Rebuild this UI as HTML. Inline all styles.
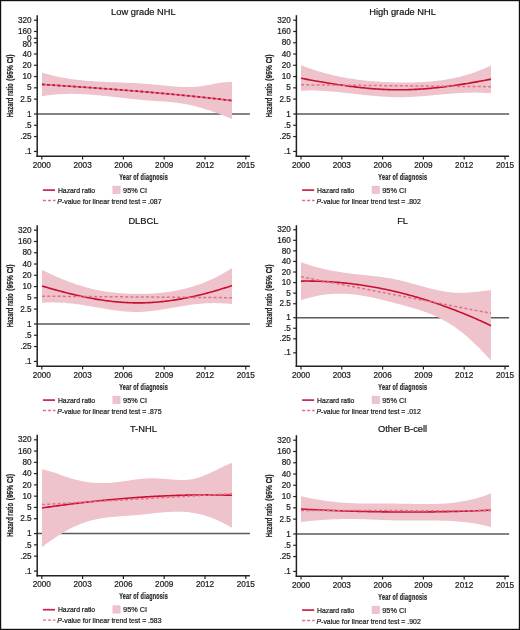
<!DOCTYPE html><html><head><meta charset="utf-8"><style>html,body{margin:0;padding:0;background:#fff;}svg{display:block;will-change:transform;}text{font-family:"Liberation Sans",sans-serif;stroke:#222;stroke-width:0.22px;}</style></head><body>
<svg width="520" height="630" viewBox="0 0 520 630">
<rect x="0" y="0" width="520" height="630" fill="#fff"/>
<g><line x1="37.20" y1="114.00" x2="249.90" y2="114.00" stroke="#5a5a5a" stroke-width="1.5"/>
<path d="M42.00,72.63 L43.50,73.09 L45.00,73.53 L46.50,73.96 L48.00,74.37 L49.50,74.77 L51.00,75.15 L52.50,75.52 L54.00,75.87 L55.50,76.21 L57.00,76.54 L58.50,76.85 L60.00,77.15 L61.50,77.44 L63.00,77.72 L64.50,77.98 L66.00,78.23 L67.50,78.48 L69.00,78.71 L70.50,78.93 L72.00,79.14 L73.50,79.34 L75.00,79.53 L76.50,79.72 L78.00,79.89 L79.50,80.06 L81.00,80.21 L82.50,80.36 L84.00,80.50 L85.50,80.64 L87.00,80.77 L88.50,80.89 L90.00,81.00 L91.50,81.11 L93.00,81.21 L94.50,81.31 L96.00,81.40 L97.50,81.49 L99.00,81.57 L100.50,81.65 L102.00,81.73 L103.50,81.80 L105.00,81.87 L106.50,81.94 L108.00,82.00 L109.50,82.07 L111.00,82.13 L112.50,82.19 L114.00,82.24 L115.50,82.30 L117.00,82.36 L118.50,82.41 L120.00,82.47 L121.50,82.53 L123.00,82.58 L124.50,82.64 L126.00,82.70 L127.50,82.77 L129.00,82.83 L130.50,82.90 L132.00,82.97 L133.50,83.04 L135.00,83.11 L136.50,83.19 L138.00,83.27 L139.50,83.36 L141.00,83.45 L142.50,83.55 L144.00,83.65 L145.50,83.76 L147.00,83.87 L148.50,83.99 L150.00,84.12 L151.50,84.25 L153.00,84.39 L154.50,84.54 L156.00,84.68 L157.50,84.83 L159.00,84.99 L160.50,85.14 L162.00,85.30 L163.50,85.45 L165.00,85.60 L166.50,85.75 L168.00,85.90 L169.50,86.04 L171.00,86.17 L172.50,86.30 L174.00,86.42 L175.50,86.54 L177.00,86.64 L178.50,86.74 L180.00,86.82 L181.50,86.89 L183.00,86.95 L184.50,86.99 L186.00,87.02 L187.50,87.03 L189.00,87.03 L190.50,87.00 L192.00,86.96 L193.50,86.90 L195.00,86.82 L196.50,86.72 L198.00,86.59 L199.50,86.44 L201.00,86.27 L202.50,86.07 L204.00,85.85 L205.50,85.60 L207.00,85.33 L208.50,85.05 L210.00,84.75 L211.50,84.45 L213.00,84.15 L214.50,83.86 L216.00,83.57 L217.50,83.29 L219.00,83.03 L220.50,82.79 L222.00,82.58 L223.50,82.40 L225.00,82.25 L226.50,82.14 L228.00,82.08 L229.50,82.06 L231.00,82.10 L232.00,82.16 L232.00,118.97 L231.00,118.56 L229.50,117.94 L228.00,117.33 L226.50,116.72 L225.00,116.12 L223.50,115.53 L222.00,114.95 L220.50,114.38 L219.00,113.81 L217.50,113.26 L216.00,112.71 L214.50,112.17 L213.00,111.64 L211.50,111.12 L210.00,110.62 L208.50,110.12 L207.00,109.63 L205.50,109.16 L204.00,108.70 L202.50,108.25 L201.00,107.81 L199.50,107.39 L198.00,106.97 L196.50,106.57 L195.00,106.19 L193.50,105.82 L192.00,105.46 L190.50,105.12 L189.00,104.79 L187.50,104.48 L186.00,104.19 L184.50,103.91 L183.00,103.64 L181.50,103.40 L180.00,103.17 L178.50,102.95 L177.00,102.76 L175.50,102.57 L174.00,102.40 L172.50,102.25 L171.00,102.11 L169.50,101.97 L168.00,101.85 L166.50,101.73 L165.00,101.62 L163.50,101.51 L162.00,101.41 L160.50,101.32 L159.00,101.22 L157.50,101.13 L156.00,101.03 L154.50,100.94 L153.00,100.84 L151.50,100.74 L150.00,100.63 L148.50,100.52 L147.00,100.40 L145.50,100.27 L144.00,100.14 L142.50,100.01 L141.00,99.87 L139.50,99.73 L138.00,99.58 L136.50,99.43 L135.00,99.27 L133.50,99.12 L132.00,98.96 L130.50,98.79 L129.00,98.63 L127.50,98.46 L126.00,98.29 L124.50,98.12 L123.00,97.95 L121.50,97.78 L120.00,97.61 L118.50,97.44 L117.00,97.27 L115.50,97.10 L114.00,96.93 L112.50,96.76 L111.00,96.59 L109.50,96.43 L108.00,96.27 L106.50,96.11 L105.00,95.95 L103.50,95.80 L102.00,95.65 L100.50,95.50 L99.00,95.36 L97.50,95.22 L96.00,95.08 L94.50,94.95 L93.00,94.83 L91.50,94.71 L90.00,94.60 L88.50,94.49 L87.00,94.39 L85.50,94.30 L84.00,94.22 L82.50,94.14 L81.00,94.07 L79.50,94.01 L78.00,93.96 L76.50,93.92 L75.00,93.88 L73.50,93.86 L72.00,93.85 L70.50,93.85 L69.00,93.86 L67.50,93.88 L66.00,93.91 L64.50,93.96 L63.00,94.01 L61.50,94.08 L60.00,94.17 L58.50,94.26 L57.00,94.37 L55.50,94.50 L54.00,94.64 L52.50,94.79 L51.00,94.96 L49.50,95.15 L48.00,95.35 L46.50,95.57 L45.00,95.81 L43.50,96.06 L42.00,96.33 Z" fill="#eec3cb"/>
<path d="M42.00,84.40 L43.50,84.50 L45.00,84.59 L46.50,84.69 L48.00,84.79 L49.50,84.89 L51.00,84.99 L52.50,85.09 L54.00,85.18 L55.50,85.28 L57.00,85.38 L58.50,85.48 L60.00,85.58 L61.50,85.68 L63.00,85.78 L64.50,85.88 L66.00,85.98 L67.50,86.08 L69.00,86.18 L70.50,86.28 L72.00,86.39 L73.50,86.49 L75.00,86.59 L76.50,86.69 L78.00,86.80 L79.50,86.90 L81.00,87.00 L82.50,87.11 L84.00,87.21 L85.50,87.32 L87.00,87.42 L88.50,87.53 L90.00,87.63 L91.50,87.74 L93.00,87.85 L94.50,87.95 L96.00,88.06 L97.50,88.17 L99.00,88.28 L100.50,88.39 L102.00,88.49 L103.50,88.60 L105.00,88.71 L106.50,88.83 L108.00,88.94 L109.50,89.05 L111.00,89.16 L112.50,89.27 L114.00,89.39 L115.50,89.50 L117.00,89.61 L118.50,89.73 L120.00,89.84 L121.50,89.96 L123.00,90.08 L124.50,90.19 L126.00,90.31 L127.50,90.43 L129.00,90.55 L130.50,90.67 L132.00,90.79 L133.50,90.91 L135.00,91.03 L136.50,91.15 L138.00,91.27 L139.50,91.40 L141.00,91.52 L142.50,91.65 L144.00,91.77 L145.50,91.90 L147.00,92.02 L148.50,92.15 L150.00,92.28 L151.50,92.41 L153.00,92.54 L154.50,92.67 L156.00,92.80 L157.50,92.93 L159.00,93.06 L160.50,93.20 L162.00,93.33 L163.50,93.47 L165.00,93.60 L166.50,93.74 L168.00,93.88 L169.50,94.01 L171.00,94.15 L172.50,94.29 L174.00,94.43 L175.50,94.57 L177.00,94.72 L178.50,94.86 L180.00,95.00 L181.50,95.15 L183.00,95.29 L184.50,95.44 L186.00,95.59 L187.50,95.74 L189.00,95.89 L190.50,96.04 L192.00,96.19 L193.50,96.34 L195.00,96.49 L196.50,96.65 L198.00,96.80 L199.50,96.96 L201.00,97.12 L202.50,97.28 L204.00,97.43 L205.50,97.59 L207.00,97.76 L208.50,97.92 L210.00,98.08 L211.50,98.25 L213.00,98.41 L214.50,98.58 L216.00,98.74 L217.50,98.91 L219.00,99.08 L220.50,99.25 L222.00,99.43 L223.50,99.60 L225.00,99.77 L226.50,99.95 L228.00,100.12 L229.50,100.30 L231.00,100.48 L232.00,100.60" fill="none" stroke="#de6e86" stroke-width="1.6"/>
<path d="M42.00,84.40 L43.50,84.50 L45.00,84.59 L46.50,84.69 L48.00,84.79 L49.50,84.89 L51.00,84.99 L52.50,85.09 L54.00,85.18 L55.50,85.28 L57.00,85.38 L58.50,85.48 L60.00,85.58 L61.50,85.68 L63.00,85.78 L64.50,85.88 L66.00,85.98 L67.50,86.08 L69.00,86.18 L70.50,86.28 L72.00,86.39 L73.50,86.49 L75.00,86.59 L76.50,86.69 L78.00,86.80 L79.50,86.90 L81.00,87.00 L82.50,87.11 L84.00,87.21 L85.50,87.32 L87.00,87.42 L88.50,87.53 L90.00,87.63 L91.50,87.74 L93.00,87.85 L94.50,87.95 L96.00,88.06 L97.50,88.17 L99.00,88.28 L100.50,88.39 L102.00,88.49 L103.50,88.60 L105.00,88.71 L106.50,88.83 L108.00,88.94 L109.50,89.05 L111.00,89.16 L112.50,89.27 L114.00,89.39 L115.50,89.50 L117.00,89.61 L118.50,89.73 L120.00,89.84 L121.50,89.96 L123.00,90.08 L124.50,90.19 L126.00,90.31 L127.50,90.43 L129.00,90.55 L130.50,90.67 L132.00,90.79 L133.50,90.91 L135.00,91.03 L136.50,91.15 L138.00,91.27 L139.50,91.40 L141.00,91.52 L142.50,91.65 L144.00,91.77 L145.50,91.90 L147.00,92.02 L148.50,92.15 L150.00,92.28 L151.50,92.41 L153.00,92.54 L154.50,92.67 L156.00,92.80 L157.50,92.93 L159.00,93.06 L160.50,93.20 L162.00,93.33 L163.50,93.47 L165.00,93.60 L166.50,93.74 L168.00,93.88 L169.50,94.01 L171.00,94.15 L172.50,94.29 L174.00,94.43 L175.50,94.57 L177.00,94.72 L178.50,94.86 L180.00,95.00 L181.50,95.15 L183.00,95.29 L184.50,95.44 L186.00,95.59 L187.50,95.74 L189.00,95.89 L190.50,96.04 L192.00,96.19 L193.50,96.34 L195.00,96.49 L196.50,96.65 L198.00,96.80 L199.50,96.96 L201.00,97.12 L202.50,97.28 L204.00,97.43 L205.50,97.59 L207.00,97.76 L208.50,97.92 L210.00,98.08 L211.50,98.25 L213.00,98.41 L214.50,98.58 L216.00,98.74 L217.50,98.91 L219.00,99.08 L220.50,99.25 L222.00,99.43 L223.50,99.60 L225.00,99.77 L226.50,99.95 L228.00,100.12 L229.50,100.30 L231.00,100.48 L232.00,100.60" fill="none" stroke="#c8103a" stroke-width="1.8" stroke-dasharray="2.6 2.6"/>
<line x1="37.20" y1="15.20" x2="37.20" y2="156.95" stroke="#222" stroke-width="1.5"/>
<line x1="36.45" y1="156.20" x2="249.90" y2="156.20" stroke="#222" stroke-width="1.5"/>
<line x1="34.00" y1="20.21" x2="37.20" y2="20.21" stroke="#222" stroke-width="1.2"/>
<text x="31.60" y="22.86" font-size="8.2" text-anchor="end" fill="#222">320</text>
<line x1="34.00" y1="31.48" x2="37.20" y2="31.48" stroke="#222" stroke-width="1.2"/>
<text x="31.60" y="34.13" font-size="8.2" text-anchor="end" fill="#222">160</text>
<line x1="34.00" y1="42.75" x2="37.20" y2="42.75" stroke="#222" stroke-width="1.2"/>
<text x="31.60" y="47.20" font-size="8.2" text-anchor="end" fill="#222">80</text>
<line x1="34.00" y1="54.02" x2="37.20" y2="54.02" stroke="#222" stroke-width="1.2"/>
<text x="31.60" y="56.67" font-size="8.2" text-anchor="end" fill="#222">40</text>
<line x1="34.00" y1="65.29" x2="37.20" y2="65.29" stroke="#222" stroke-width="1.2"/>
<text x="31.60" y="67.94" font-size="8.2" text-anchor="end" fill="#222">20</text>
<line x1="34.00" y1="76.56" x2="37.20" y2="76.56" stroke="#222" stroke-width="1.2"/>
<text x="31.60" y="79.21" font-size="8.2" text-anchor="end" fill="#222">10</text>
<line x1="34.00" y1="87.83" x2="37.20" y2="87.83" stroke="#222" stroke-width="1.2"/>
<text x="31.60" y="90.48" font-size="8.2" text-anchor="end" fill="#222">5</text>
<line x1="34.00" y1="99.10" x2="37.20" y2="99.10" stroke="#222" stroke-width="1.2"/>
<text x="31.60" y="101.75" font-size="8.2" text-anchor="end" fill="#222">2.5</text>
<line x1="34.00" y1="114.00" x2="37.20" y2="114.00" stroke="#222" stroke-width="1.2"/>
<text x="31.60" y="116.65" font-size="8.2" text-anchor="end" fill="#222">1</text>
<line x1="34.00" y1="125.27" x2="37.20" y2="125.27" stroke="#222" stroke-width="1.2"/>
<text x="31.60" y="127.92" font-size="8.2" text-anchor="end" fill="#222">.5</text>
<line x1="34.00" y1="136.54" x2="37.20" y2="136.54" stroke="#222" stroke-width="1.2"/>
<text x="31.60" y="139.19" font-size="8.2" text-anchor="end" fill="#222">.25</text>
<line x1="34.00" y1="151.44" x2="37.20" y2="151.44" stroke="#222" stroke-width="1.2"/>
<text x="31.60" y="154.09" font-size="8.2" text-anchor="end" fill="#222">.1</text>
<line x1="34.00" y1="38.30" x2="37.20" y2="38.30" stroke="#222" stroke-width="1.2"/>
<text x="31.60" y="40.60" font-size="8.2" text-anchor="end" fill="#222">0</text>
<line x1="41.80" y1="156.20" x2="41.80" y2="159.40" stroke="#222" stroke-width="1.2"/>
<text x="41.80" y="167.50" font-size="8.2" text-anchor="middle" fill="#222">2000</text>
<line x1="82.60" y1="156.20" x2="82.60" y2="159.40" stroke="#222" stroke-width="1.2"/>
<text x="82.60" y="167.50" font-size="8.2" text-anchor="middle" fill="#222">2003</text>
<line x1="123.40" y1="156.20" x2="123.40" y2="159.40" stroke="#222" stroke-width="1.2"/>
<text x="123.40" y="167.50" font-size="8.2" text-anchor="middle" fill="#222">2006</text>
<line x1="164.20" y1="156.20" x2="164.20" y2="159.40" stroke="#222" stroke-width="1.2"/>
<text x="164.20" y="167.50" font-size="8.2" text-anchor="middle" fill="#222">2009</text>
<line x1="205.00" y1="156.20" x2="205.00" y2="159.40" stroke="#222" stroke-width="1.2"/>
<text x="205.00" y="167.50" font-size="8.2" text-anchor="middle" fill="#222">2012</text>
<line x1="245.80" y1="156.20" x2="245.80" y2="159.40" stroke="#222" stroke-width="1.2"/>
<text x="245.80" y="167.50" font-size="8.2" text-anchor="middle" fill="#222">2015</text>
<text x="143.40" y="14.80" font-size="9.3" text-anchor="middle" fill="#111">Low grade NHL</text>
<text transform="translate(143.60,179.50) scale(0.59,1)" font-size="9.3" letter-spacing="0.35" font-weight="bold" stroke="none" text-anchor="middle" fill="#262626">Year of diagnosis</text>
<text transform="translate(13.00,117.20) rotate(-90) scale(0.645,1)" font-size="9.1" font-weight="bold" stroke="none" text-anchor="start" fill="#262626">Hazard ratio</text>
<text transform="translate(13.00,54.50) rotate(-90) scale(0.73,1)" font-size="9.1" font-weight="bold" stroke="none" text-anchor="end" fill="#262626">(95% CI)</text>
<line x1="42.90" y1="190.10" x2="55.00" y2="190.10" stroke="#cc2244" stroke-width="1.7"/>
<text x="57.90" y="192.60" font-size="6.85" fill="#222">Hazard ratio</text>
<rect x="112.90" y="186.20" width="7.2" height="7.3" fill="#eec3cb" stroke="#e9b3bf" stroke-width="0.6"/>
<text x="123.10" y="192.60" font-size="7.3" fill="#222">95% CI</text>
<line x1="42.90" y1="200.50" x2="55.50" y2="200.50" stroke="#e2708a" stroke-width="1.3" stroke-dasharray="3.1 1.9"/>
<text x="57.30" y="203.70" font-size="6.92" fill="#222"><tspan font-style="italic">P</tspan>-value for linear trend test = .087</text></g>
<g><line x1="296.40" y1="114.00" x2="509.10" y2="114.00" stroke="#5a5a5a" stroke-width="1.5"/>
<path d="M301.00,65.17 L302.50,65.77 L304.00,66.35 L305.50,66.92 L307.00,67.47 L308.50,68.02 L310.00,68.55 L311.50,69.07 L313.00,69.57 L314.50,70.07 L316.00,70.55 L317.50,71.02 L319.00,71.48 L320.50,71.92 L322.00,72.36 L323.50,72.78 L325.00,73.19 L326.50,73.60 L328.00,73.99 L329.50,74.37 L331.00,74.73 L332.50,75.09 L334.00,75.44 L335.50,75.78 L337.00,76.11 L338.50,76.42 L340.00,76.73 L341.50,77.03 L343.00,77.32 L344.50,77.60 L346.00,77.87 L347.50,78.13 L349.00,78.38 L350.50,78.62 L352.00,78.86 L353.50,79.08 L355.00,79.30 L356.50,79.51 L358.00,79.71 L359.50,79.90 L361.00,80.08 L362.50,80.26 L364.00,80.43 L365.50,80.59 L367.00,80.74 L368.50,80.89 L370.00,81.03 L371.50,81.16 L373.00,81.28 L374.50,81.40 L376.00,81.51 L377.50,81.62 L379.00,81.72 L380.50,81.81 L382.00,81.90 L383.50,81.98 L385.00,82.05 L386.50,82.12 L388.00,82.18 L389.50,82.24 L391.00,82.30 L392.50,82.34 L394.00,82.39 L395.50,82.42 L397.00,82.46 L398.50,82.49 L400.00,82.51 L401.50,82.53 L403.00,82.54 L404.50,82.55 L406.00,82.55 L407.50,82.54 L409.00,82.53 L410.50,82.51 L412.00,82.49 L413.50,82.45 L415.00,82.41 L416.50,82.37 L418.00,82.31 L419.50,82.25 L421.00,82.18 L422.50,82.10 L424.00,82.01 L425.50,81.91 L427.00,81.80 L428.50,81.68 L430.00,81.56 L431.50,81.42 L433.00,81.28 L434.50,81.12 L436.00,80.95 L437.50,80.77 L439.00,80.59 L440.50,80.39 L442.00,80.17 L443.50,79.95 L445.00,79.71 L446.50,79.47 L448.00,79.21 L449.50,78.93 L451.00,78.65 L452.50,78.35 L454.00,78.04 L455.50,77.71 L457.00,77.37 L458.50,77.02 L460.00,76.65 L461.50,76.27 L463.00,75.87 L464.50,75.46 L466.00,75.03 L467.50,74.59 L469.00,74.13 L470.50,73.66 L472.00,73.17 L473.50,72.66 L475.00,72.14 L476.50,71.60 L478.00,71.04 L479.50,70.47 L481.00,69.87 L482.50,69.27 L484.00,68.64 L485.50,67.99 L487.00,67.33 L488.50,66.65 L490.00,65.94 L491.00,65.47 L491.00,93.27 L490.00,93.19 L488.50,93.07 L487.00,92.97 L485.50,92.88 L484.00,92.80 L482.50,92.74 L481.00,92.69 L479.50,92.65 L478.00,92.63 L476.50,92.61 L475.00,92.61 L473.50,92.62 L472.00,92.63 L470.50,92.66 L469.00,92.70 L467.50,92.74 L466.00,92.79 L464.50,92.85 L463.00,92.92 L461.50,93.00 L460.00,93.08 L458.50,93.17 L457.00,93.27 L455.50,93.37 L454.00,93.47 L452.50,93.58 L451.00,93.70 L449.50,93.81 L448.00,93.94 L446.50,94.06 L445.00,94.19 L443.50,94.32 L442.00,94.45 L440.50,94.58 L439.00,94.72 L437.50,94.85 L436.00,94.99 L434.50,95.12 L433.00,95.25 L431.50,95.39 L430.00,95.52 L428.50,95.65 L427.00,95.78 L425.50,95.90 L424.00,96.02 L422.50,96.14 L421.00,96.25 L419.50,96.36 L418.00,96.47 L416.50,96.57 L415.00,96.66 L413.50,96.75 L412.00,96.83 L410.50,96.91 L409.00,96.97 L407.50,97.03 L406.00,97.08 L404.50,97.13 L403.00,97.16 L401.50,97.19 L400.00,97.20 L398.50,97.21 L397.00,97.20 L395.50,97.19 L394.00,97.16 L392.50,97.12 L391.00,97.07 L389.50,97.02 L388.00,96.95 L386.50,96.87 L385.00,96.79 L383.50,96.69 L382.00,96.59 L380.50,96.48 L379.00,96.37 L377.50,96.25 L376.00,96.12 L374.50,95.98 L373.00,95.84 L371.50,95.70 L370.00,95.55 L368.50,95.40 L367.00,95.24 L365.50,95.08 L364.00,94.92 L362.50,94.75 L361.00,94.58 L359.50,94.41 L358.00,94.24 L356.50,94.07 L355.00,93.90 L353.50,93.73 L352.00,93.56 L350.50,93.38 L349.00,93.22 L347.50,93.05 L346.00,92.88 L344.50,92.72 L343.00,92.56 L341.50,92.40 L340.00,92.24 L338.50,92.09 L337.00,91.95 L335.50,91.81 L334.00,91.67 L332.50,91.54 L331.00,91.42 L329.50,91.30 L328.00,91.19 L326.50,91.09 L325.00,90.99 L323.50,90.91 L322.00,90.83 L320.50,90.76 L319.00,90.70 L317.50,90.65 L316.00,90.61 L314.50,90.58 L313.00,90.56 L311.50,90.55 L310.00,90.56 L308.50,90.57 L307.00,90.60 L305.50,90.65 L304.00,90.70 L302.50,90.77 L301.00,90.86 Z" fill="#eec3cb"/>
<path d="M301.00,78.24 L302.50,78.53 L304.00,78.81 L305.50,79.09 L307.00,79.37 L308.50,79.64 L310.00,79.92 L311.50,80.19 L313.00,80.46 L314.50,80.73 L316.00,80.99 L317.50,81.26 L319.00,81.52 L320.50,81.78 L322.00,82.03 L323.50,82.29 L325.00,82.54 L326.50,82.79 L328.00,83.03 L329.50,83.27 L331.00,83.51 L332.50,83.75 L334.00,83.99 L335.50,84.22 L337.00,84.44 L338.50,84.67 L340.00,84.89 L341.50,85.11 L343.00,85.33 L344.50,85.54 L346.00,85.75 L347.50,85.95 L349.00,86.15 L350.50,86.35 L352.00,86.54 L353.50,86.73 L355.00,86.91 L356.50,87.09 L358.00,87.26 L359.50,87.43 L361.00,87.60 L362.50,87.76 L364.00,87.91 L365.50,88.06 L367.00,88.21 L368.50,88.35 L370.00,88.48 L371.50,88.61 L373.00,88.73 L374.50,88.85 L376.00,88.96 L377.50,89.06 L379.00,89.16 L380.50,89.25 L382.00,89.34 L383.50,89.42 L385.00,89.49 L386.50,89.55 L388.00,89.61 L389.50,89.66 L391.00,89.71 L392.50,89.74 L394.00,89.77 L395.50,89.80 L397.00,89.81 L398.50,89.82 L400.00,89.82 L401.50,89.81 L403.00,89.79 L404.50,89.77 L406.00,89.74 L407.50,89.70 L409.00,89.66 L410.50,89.61 L412.00,89.55 L413.50,89.48 L415.00,89.41 L416.50,89.33 L418.00,89.25 L419.50,89.16 L421.00,89.06 L422.50,88.96 L424.00,88.85 L425.50,88.73 L427.00,88.61 L428.50,88.49 L430.00,88.35 L431.50,88.21 L433.00,88.07 L434.50,87.92 L436.00,87.77 L437.50,87.60 L439.00,87.44 L440.50,87.27 L442.00,87.09 L443.50,86.91 L445.00,86.73 L446.50,86.54 L448.00,86.34 L449.50,86.14 L451.00,85.94 L452.50,85.73 L454.00,85.52 L455.50,85.30 L457.00,85.08 L458.50,84.85 L460.00,84.62 L461.50,84.39 L463.00,84.15 L464.50,83.91 L466.00,83.67 L467.50,83.42 L469.00,83.17 L470.50,82.91 L472.00,82.66 L473.50,82.39 L475.00,82.13 L476.50,81.86 L478.00,81.59 L479.50,81.32 L481.00,81.04 L482.50,80.76 L484.00,80.48 L485.50,80.20 L487.00,79.91 L488.50,79.63 L490.00,79.34 L491.00,79.14" fill="none" stroke="#c8102e" stroke-width="1.6"/>
<path d="M301.00,84.80 L491.00,86.70" fill="none" stroke="#e2708a" stroke-width="1.5" stroke-dasharray="3 2.2"/>
<line x1="296.40" y1="15.20" x2="296.40" y2="156.95" stroke="#222" stroke-width="1.5"/>
<line x1="295.65" y1="156.20" x2="509.10" y2="156.20" stroke="#222" stroke-width="1.5"/>
<line x1="293.20" y1="20.21" x2="296.40" y2="20.21" stroke="#222" stroke-width="1.2"/>
<text x="290.80" y="22.86" font-size="8.2" text-anchor="end" fill="#222">320</text>
<line x1="293.20" y1="31.48" x2="296.40" y2="31.48" stroke="#222" stroke-width="1.2"/>
<text x="290.80" y="34.13" font-size="8.2" text-anchor="end" fill="#222">160</text>
<line x1="293.20" y1="42.75" x2="296.40" y2="42.75" stroke="#222" stroke-width="1.2"/>
<text x="290.80" y="45.40" font-size="8.2" text-anchor="end" fill="#222">80</text>
<line x1="293.20" y1="54.02" x2="296.40" y2="54.02" stroke="#222" stroke-width="1.2"/>
<text x="290.80" y="56.67" font-size="8.2" text-anchor="end" fill="#222">40</text>
<line x1="293.20" y1="65.29" x2="296.40" y2="65.29" stroke="#222" stroke-width="1.2"/>
<text x="290.80" y="67.94" font-size="8.2" text-anchor="end" fill="#222">20</text>
<line x1="293.20" y1="76.56" x2="296.40" y2="76.56" stroke="#222" stroke-width="1.2"/>
<text x="290.80" y="79.21" font-size="8.2" text-anchor="end" fill="#222">10</text>
<line x1="293.20" y1="87.83" x2="296.40" y2="87.83" stroke="#222" stroke-width="1.2"/>
<text x="290.80" y="90.48" font-size="8.2" text-anchor="end" fill="#222">5</text>
<line x1="293.20" y1="99.10" x2="296.40" y2="99.10" stroke="#222" stroke-width="1.2"/>
<text x="290.80" y="101.75" font-size="8.2" text-anchor="end" fill="#222">2.5</text>
<line x1="293.20" y1="114.00" x2="296.40" y2="114.00" stroke="#222" stroke-width="1.2"/>
<text x="290.80" y="116.65" font-size="8.2" text-anchor="end" fill="#222">1</text>
<line x1="293.20" y1="125.27" x2="296.40" y2="125.27" stroke="#222" stroke-width="1.2"/>
<text x="290.80" y="127.92" font-size="8.2" text-anchor="end" fill="#222">.5</text>
<line x1="293.20" y1="136.54" x2="296.40" y2="136.54" stroke="#222" stroke-width="1.2"/>
<text x="290.80" y="139.19" font-size="8.2" text-anchor="end" fill="#222">.25</text>
<line x1="293.20" y1="151.44" x2="296.40" y2="151.44" stroke="#222" stroke-width="1.2"/>
<text x="290.80" y="154.09" font-size="8.2" text-anchor="end" fill="#222">.1</text>
<line x1="301.00" y1="156.20" x2="301.00" y2="159.40" stroke="#222" stroke-width="1.2"/>
<text x="301.00" y="167.50" font-size="8.2" text-anchor="middle" fill="#222">2000</text>
<line x1="341.80" y1="156.20" x2="341.80" y2="159.40" stroke="#222" stroke-width="1.2"/>
<text x="341.80" y="167.50" font-size="8.2" text-anchor="middle" fill="#222">2003</text>
<line x1="382.60" y1="156.20" x2="382.60" y2="159.40" stroke="#222" stroke-width="1.2"/>
<text x="382.60" y="167.50" font-size="8.2" text-anchor="middle" fill="#222">2006</text>
<line x1="423.40" y1="156.20" x2="423.40" y2="159.40" stroke="#222" stroke-width="1.2"/>
<text x="423.40" y="167.50" font-size="8.2" text-anchor="middle" fill="#222">2009</text>
<line x1="464.20" y1="156.20" x2="464.20" y2="159.40" stroke="#222" stroke-width="1.2"/>
<text x="464.20" y="167.50" font-size="8.2" text-anchor="middle" fill="#222">2012</text>
<line x1="505.00" y1="156.20" x2="505.00" y2="159.40" stroke="#222" stroke-width="1.2"/>
<text x="505.00" y="167.50" font-size="8.2" text-anchor="middle" fill="#222">2015</text>
<text x="402.60" y="14.80" font-size="9.3" text-anchor="middle" fill="#111">High grade NHL</text>
<text transform="translate(402.80,179.50) scale(0.59,1)" font-size="9.3" letter-spacing="0.35" font-weight="bold" stroke="none" text-anchor="middle" fill="#262626">Year of diagnosis</text>
<text transform="translate(272.20,117.20) rotate(-90) scale(0.645,1)" font-size="9.1" font-weight="bold" stroke="none" text-anchor="start" fill="#262626">Hazard ratio</text>
<text transform="translate(272.20,54.50) rotate(-90) scale(0.73,1)" font-size="9.1" font-weight="bold" stroke="none" text-anchor="end" fill="#262626">(95% CI)</text>
<line x1="302.10" y1="190.10" x2="314.20" y2="190.10" stroke="#cc2244" stroke-width="1.7"/>
<text x="317.10" y="192.60" font-size="6.85" fill="#222">Hazard ratio</text>
<rect x="372.10" y="186.20" width="7.2" height="7.3" fill="#eec3cb" stroke="#e9b3bf" stroke-width="0.6"/>
<text x="382.30" y="192.60" font-size="7.3" fill="#222">95% CI</text>
<line x1="302.10" y1="200.50" x2="314.70" y2="200.50" stroke="#e2708a" stroke-width="1.3" stroke-dasharray="3.1 1.9"/>
<text x="316.50" y="203.70" font-size="6.92" fill="#222"><tspan font-style="italic">P</tspan>-value for linear trend test = .802</text></g>
<g><line x1="37.20" y1="324.00" x2="249.90" y2="324.00" stroke="#5a5a5a" stroke-width="1.5"/>
<path d="M42.00,269.88 L43.50,270.62 L45.00,271.36 L46.50,272.08 L48.00,272.80 L49.50,273.50 L51.00,274.20 L52.50,274.89 L54.00,275.57 L55.50,276.23 L57.00,276.89 L58.50,277.53 L60.00,278.17 L61.50,278.79 L63.00,279.40 L64.50,280.00 L66.00,280.59 L67.50,281.17 L69.00,281.74 L70.50,282.29 L72.00,282.83 L73.50,283.36 L75.00,283.88 L76.50,284.38 L78.00,284.88 L79.50,285.36 L81.00,285.82 L82.50,286.27 L84.00,286.71 L85.50,287.14 L87.00,287.55 L88.50,287.95 L90.00,288.34 L91.50,288.71 L93.00,289.06 L94.50,289.40 L96.00,289.73 L97.50,290.04 L99.00,290.34 L100.50,290.63 L102.00,290.90 L103.50,291.15 L105.00,291.40 L106.50,291.63 L108.00,291.85 L109.50,292.05 L111.00,292.24 L112.50,292.42 L114.00,292.59 L115.50,292.75 L117.00,292.90 L118.50,293.03 L120.00,293.15 L121.50,293.27 L123.00,293.37 L124.50,293.46 L126.00,293.54 L127.50,293.61 L129.00,293.67 L130.50,293.73 L132.00,293.77 L133.50,293.80 L135.00,293.83 L136.50,293.85 L138.00,293.86 L139.50,293.86 L141.00,293.85 L142.50,293.83 L144.00,293.80 L145.50,293.77 L147.00,293.72 L148.50,293.67 L150.00,293.60 L151.50,293.53 L153.00,293.44 L154.50,293.35 L156.00,293.24 L157.50,293.12 L159.00,292.99 L160.50,292.85 L162.00,292.69 L163.50,292.53 L165.00,292.35 L166.50,292.16 L168.00,291.96 L169.50,291.74 L171.00,291.51 L172.50,291.27 L174.00,291.01 L175.50,290.74 L177.00,290.45 L178.50,290.15 L180.00,289.84 L181.50,289.51 L183.00,289.16 L184.50,288.80 L186.00,288.42 L187.50,288.03 L189.00,287.62 L190.50,287.20 L192.00,286.76 L193.50,286.30 L195.00,285.82 L196.50,285.33 L198.00,284.82 L199.50,284.29 L201.00,283.74 L202.50,283.18 L204.00,282.60 L205.50,281.99 L207.00,281.37 L208.50,280.73 L210.00,280.07 L211.50,279.39 L213.00,278.69 L214.50,277.98 L216.00,277.24 L217.50,276.47 L219.00,275.69 L220.50,274.89 L222.00,274.07 L223.50,273.22 L225.00,272.35 L226.50,271.46 L228.00,270.55 L229.50,269.62 L231.00,268.66 L232.00,268.01 L232.00,304.11 L231.00,304.00 L229.50,303.85 L228.00,303.71 L226.50,303.58 L225.00,303.48 L223.50,303.38 L222.00,303.30 L220.50,303.24 L219.00,303.19 L217.50,303.15 L216.00,303.13 L214.50,303.12 L213.00,303.12 L211.50,303.14 L210.00,303.18 L208.50,303.23 L207.00,303.29 L205.50,303.36 L204.00,303.45 L202.50,303.55 L201.00,303.66 L199.50,303.79 L198.00,303.93 L196.50,304.08 L195.00,304.25 L193.50,304.42 L192.00,304.61 L190.50,304.81 L189.00,305.02 L187.50,305.24 L186.00,305.47 L184.50,305.71 L183.00,305.95 L181.50,306.20 L180.00,306.45 L178.50,306.70 L177.00,306.96 L175.50,307.23 L174.00,307.49 L172.50,307.75 L171.00,308.02 L169.50,308.28 L168.00,308.54 L166.50,308.80 L165.00,309.05 L163.50,309.30 L162.00,309.54 L160.50,309.78 L159.00,310.01 L157.50,310.23 L156.00,310.44 L154.50,310.64 L153.00,310.83 L151.50,311.01 L150.00,311.18 L148.50,311.34 L147.00,311.48 L145.50,311.60 L144.00,311.71 L142.50,311.80 L141.00,311.88 L139.50,311.93 L138.00,311.97 L136.50,311.99 L135.00,311.98 L133.50,311.96 L132.00,311.91 L130.50,311.85 L129.00,311.77 L127.50,311.68 L126.00,311.57 L124.50,311.44 L123.00,311.30 L121.50,311.15 L120.00,310.98 L118.50,310.80 L117.00,310.61 L115.50,310.41 L114.00,310.20 L112.50,309.99 L111.00,309.76 L109.50,309.53 L108.00,309.29 L106.50,309.04 L105.00,308.79 L103.50,308.54 L102.00,308.29 L100.50,308.03 L99.00,307.77 L97.50,307.51 L96.00,307.25 L94.50,306.99 L93.00,306.73 L91.50,306.47 L90.00,306.22 L88.50,305.97 L87.00,305.73 L85.50,305.49 L84.00,305.25 L82.50,305.02 L81.00,304.79 L79.50,304.58 L78.00,304.36 L76.50,304.16 L75.00,303.96 L73.50,303.78 L72.00,303.60 L70.50,303.43 L69.00,303.27 L67.50,303.13 L66.00,302.99 L64.50,302.87 L63.00,302.76 L61.50,302.66 L60.00,302.57 L58.50,302.50 L57.00,302.45 L55.50,302.41 L54.00,302.38 L52.50,302.37 L51.00,302.38 L49.50,302.40 L48.00,302.45 L46.50,302.51 L45.00,302.59 L43.50,302.69 L42.00,302.80 Z" fill="#eec3cb"/>
<path d="M42.00,285.98 L43.50,286.43 L45.00,286.87 L46.50,287.31 L48.00,287.75 L49.50,288.18 L51.00,288.61 L52.50,289.03 L54.00,289.45 L55.50,289.87 L57.00,290.28 L58.50,290.69 L60.00,291.09 L61.50,291.49 L63.00,291.89 L64.50,292.28 L66.00,292.66 L67.50,293.04 L69.00,293.41 L70.50,293.78 L72.00,294.14 L73.50,294.50 L75.00,294.85 L76.50,295.20 L78.00,295.53 L79.50,295.87 L81.00,296.20 L82.50,296.52 L84.00,296.83 L85.50,297.14 L87.00,297.44 L88.50,297.73 L90.00,298.02 L91.50,298.30 L93.00,298.58 L94.50,298.84 L96.00,299.10 L97.50,299.35 L99.00,299.60 L100.50,299.83 L102.00,300.06 L103.50,300.28 L105.00,300.49 L106.50,300.70 L108.00,300.90 L109.50,301.08 L111.00,301.26 L112.50,301.43 L114.00,301.60 L115.50,301.75 L117.00,301.89 L118.50,302.03 L120.00,302.15 L121.50,302.27 L123.00,302.38 L124.50,302.48 L126.00,302.56 L127.50,302.64 L129.00,302.71 L130.50,302.77 L132.00,302.82 L133.50,302.86 L135.00,302.88 L136.50,302.90 L138.00,302.91 L139.50,302.90 L141.00,302.89 L142.50,302.87 L144.00,302.83 L145.50,302.79 L147.00,302.73 L148.50,302.66 L150.00,302.59 L151.50,302.50 L153.00,302.41 L154.50,302.30 L156.00,302.19 L157.50,302.07 L159.00,301.93 L160.50,301.79 L162.00,301.64 L163.50,301.48 L165.00,301.31 L166.50,301.13 L168.00,300.94 L169.50,300.74 L171.00,300.53 L172.50,300.32 L174.00,300.09 L175.50,299.86 L177.00,299.62 L178.50,299.37 L180.00,299.11 L181.50,298.85 L183.00,298.57 L184.50,298.29 L186.00,298.00 L187.50,297.70 L189.00,297.39 L190.50,297.08 L192.00,296.76 L193.50,296.43 L195.00,296.09 L196.50,295.75 L198.00,295.39 L199.50,295.03 L201.00,294.67 L202.50,294.29 L204.00,293.91 L205.50,293.52 L207.00,293.13 L208.50,292.73 L210.00,292.32 L211.50,291.90 L213.00,291.48 L214.50,291.05 L216.00,290.62 L217.50,290.18 L219.00,289.73 L220.50,289.28 L222.00,288.82 L223.50,288.35 L225.00,287.88 L226.50,287.40 L228.00,286.92 L229.50,286.43 L231.00,285.94 L232.00,285.60" fill="none" stroke="#c8102e" stroke-width="1.6"/>
<path d="M42.00,296.20 L232.00,297.70" fill="none" stroke="#e2708a" stroke-width="1.5" stroke-dasharray="3 2.2"/>
<line x1="37.20" y1="225.20" x2="37.20" y2="366.95" stroke="#222" stroke-width="1.5"/>
<line x1="36.45" y1="366.20" x2="249.90" y2="366.20" stroke="#222" stroke-width="1.5"/>
<line x1="34.00" y1="230.21" x2="37.20" y2="230.21" stroke="#222" stroke-width="1.2"/>
<text x="31.60" y="232.86" font-size="8.2" text-anchor="end" fill="#222">320</text>
<line x1="34.00" y1="241.48" x2="37.20" y2="241.48" stroke="#222" stroke-width="1.2"/>
<text x="31.60" y="244.13" font-size="8.2" text-anchor="end" fill="#222">160</text>
<line x1="34.00" y1="252.75" x2="37.20" y2="252.75" stroke="#222" stroke-width="1.2"/>
<text x="31.60" y="255.40" font-size="8.2" text-anchor="end" fill="#222">80</text>
<line x1="34.00" y1="264.02" x2="37.20" y2="264.02" stroke="#222" stroke-width="1.2"/>
<text x="31.60" y="266.67" font-size="8.2" text-anchor="end" fill="#222">40</text>
<line x1="34.00" y1="275.29" x2="37.20" y2="275.29" stroke="#222" stroke-width="1.2"/>
<text x="31.60" y="277.94" font-size="8.2" text-anchor="end" fill="#222">20</text>
<line x1="34.00" y1="286.56" x2="37.20" y2="286.56" stroke="#222" stroke-width="1.2"/>
<text x="31.60" y="289.21" font-size="8.2" text-anchor="end" fill="#222">10</text>
<line x1="34.00" y1="297.83" x2="37.20" y2="297.83" stroke="#222" stroke-width="1.2"/>
<text x="31.60" y="300.48" font-size="8.2" text-anchor="end" fill="#222">5</text>
<line x1="34.00" y1="309.10" x2="37.20" y2="309.10" stroke="#222" stroke-width="1.2"/>
<text x="31.60" y="311.75" font-size="8.2" text-anchor="end" fill="#222">2.5</text>
<line x1="34.00" y1="324.00" x2="37.20" y2="324.00" stroke="#222" stroke-width="1.2"/>
<text x="31.60" y="326.65" font-size="8.2" text-anchor="end" fill="#222">1</text>
<line x1="34.00" y1="335.27" x2="37.20" y2="335.27" stroke="#222" stroke-width="1.2"/>
<text x="31.60" y="337.92" font-size="8.2" text-anchor="end" fill="#222">.5</text>
<line x1="34.00" y1="346.54" x2="37.20" y2="346.54" stroke="#222" stroke-width="1.2"/>
<text x="31.60" y="349.19" font-size="8.2" text-anchor="end" fill="#222">.25</text>
<line x1="34.00" y1="361.44" x2="37.20" y2="361.44" stroke="#222" stroke-width="1.2"/>
<text x="31.60" y="364.09" font-size="8.2" text-anchor="end" fill="#222">.1</text>
<line x1="41.80" y1="366.20" x2="41.80" y2="369.40" stroke="#222" stroke-width="1.2"/>
<text x="41.80" y="377.50" font-size="8.2" text-anchor="middle" fill="#222">2000</text>
<line x1="82.60" y1="366.20" x2="82.60" y2="369.40" stroke="#222" stroke-width="1.2"/>
<text x="82.60" y="377.50" font-size="8.2" text-anchor="middle" fill="#222">2003</text>
<line x1="123.40" y1="366.20" x2="123.40" y2="369.40" stroke="#222" stroke-width="1.2"/>
<text x="123.40" y="377.50" font-size="8.2" text-anchor="middle" fill="#222">2006</text>
<line x1="164.20" y1="366.20" x2="164.20" y2="369.40" stroke="#222" stroke-width="1.2"/>
<text x="164.20" y="377.50" font-size="8.2" text-anchor="middle" fill="#222">2009</text>
<line x1="205.00" y1="366.20" x2="205.00" y2="369.40" stroke="#222" stroke-width="1.2"/>
<text x="205.00" y="377.50" font-size="8.2" text-anchor="middle" fill="#222">2012</text>
<line x1="245.80" y1="366.20" x2="245.80" y2="369.40" stroke="#222" stroke-width="1.2"/>
<text x="245.80" y="377.50" font-size="8.2" text-anchor="middle" fill="#222">2015</text>
<text x="143.40" y="224.00" font-size="9.3" text-anchor="middle" fill="#111">DLBCL</text>
<text transform="translate(143.60,389.50) scale(0.59,1)" font-size="9.3" letter-spacing="0.35" font-weight="bold" stroke="none" text-anchor="middle" fill="#262626">Year of diagnosis</text>
<text transform="translate(13.00,327.20) rotate(-90) scale(0.645,1)" font-size="9.1" font-weight="bold" stroke="none" text-anchor="start" fill="#262626">Hazard ratio</text>
<text transform="translate(13.00,264.50) rotate(-90) scale(0.73,1)" font-size="9.1" font-weight="bold" stroke="none" text-anchor="end" fill="#262626">(95% CI)</text>
<line x1="42.90" y1="400.10" x2="55.00" y2="400.10" stroke="#cc2244" stroke-width="1.7"/>
<text x="57.90" y="402.60" font-size="6.85" fill="#222">Hazard ratio</text>
<rect x="112.90" y="396.20" width="7.2" height="7.3" fill="#eec3cb" stroke="#e9b3bf" stroke-width="0.6"/>
<text x="123.10" y="402.60" font-size="7.3" fill="#222">95% CI</text>
<line x1="42.90" y1="410.50" x2="55.50" y2="410.50" stroke="#e2708a" stroke-width="1.3" stroke-dasharray="3.1 1.9"/>
<text x="57.30" y="413.70" font-size="6.92" fill="#222"><tspan font-style="italic">P</tspan>-value for linear trend test = .875</text></g>
<g><line x1="296.40" y1="317.70" x2="509.10" y2="317.70" stroke="#5a5a5a" stroke-width="1.5"/>
<path d="M301.00,262.18 L302.50,262.74 L304.00,263.28 L305.50,263.80 L307.00,264.31 L308.50,264.80 L310.00,265.28 L311.50,265.74 L313.00,266.18 L314.50,266.61 L316.00,267.03 L317.50,267.43 L319.00,267.82 L320.50,268.20 L322.00,268.56 L323.50,268.91 L325.00,269.25 L326.50,269.58 L328.00,269.89 L329.50,270.20 L331.00,270.49 L332.50,270.78 L334.00,271.05 L335.50,271.32 L337.00,271.57 L338.50,271.82 L340.00,272.06 L341.50,272.29 L343.00,272.51 L344.50,272.73 L346.00,272.93 L347.50,273.14 L349.00,273.33 L350.50,273.52 L352.00,273.70 L353.50,273.88 L355.00,274.05 L356.50,274.22 L358.00,274.39 L359.50,274.55 L361.00,274.71 L362.50,274.87 L364.00,275.03 L365.50,275.18 L367.00,275.34 L368.50,275.50 L370.00,275.66 L371.50,275.83 L373.00,275.99 L374.50,276.17 L376.00,276.34 L377.50,276.53 L379.00,276.71 L380.50,276.91 L382.00,277.11 L383.50,277.32 L385.00,277.55 L386.50,277.78 L388.00,278.02 L389.50,278.27 L391.00,278.53 L392.50,278.81 L394.00,279.10 L395.50,279.40 L397.00,279.72 L398.50,280.05 L400.00,280.40 L401.50,280.75 L403.00,281.12 L404.50,281.50 L406.00,281.89 L407.50,282.28 L409.00,282.69 L410.50,283.09 L412.00,283.51 L413.50,283.92 L415.00,284.34 L416.50,284.76 L418.00,285.18 L419.50,285.60 L421.00,286.01 L422.50,286.43 L424.00,286.84 L425.50,287.24 L427.00,287.64 L428.50,288.04 L430.00,288.42 L431.50,288.80 L433.00,289.16 L434.50,289.51 L436.00,289.86 L437.50,290.18 L439.00,290.50 L440.50,290.79 L442.00,291.07 L443.50,291.34 L445.00,291.58 L446.50,291.81 L448.00,292.01 L449.50,292.19 L451.00,292.35 L452.50,292.48 L454.00,292.59 L455.50,292.68 L457.00,292.73 L458.50,292.77 L460.00,292.78 L461.50,292.77 L463.00,292.75 L464.50,292.70 L466.00,292.63 L467.50,292.55 L469.00,292.46 L470.50,292.35 L472.00,292.23 L473.50,292.09 L475.00,291.95 L476.50,291.79 L478.00,291.63 L479.50,291.46 L481.00,291.28 L482.50,291.10 L484.00,290.92 L485.50,290.73 L487.00,290.54 L488.50,290.36 L490.00,290.17 L491.00,290.05 L491.00,360.54 L490.00,359.43 L488.50,357.79 L487.00,356.17 L485.50,354.57 L484.00,352.99 L482.50,351.43 L481.00,349.89 L479.50,348.37 L478.00,346.87 L476.50,345.40 L475.00,343.96 L473.50,342.53 L472.00,341.14 L470.50,339.77 L469.00,338.42 L467.50,337.10 L466.00,335.81 L464.50,334.55 L463.00,333.32 L461.50,332.12 L460.00,330.94 L458.50,329.80 L457.00,328.69 L455.50,327.62 L454.00,326.57 L452.50,325.56 L451.00,324.58 L449.50,323.64 L448.00,322.72 L446.50,321.83 L445.00,320.98 L443.50,320.15 L442.00,319.35 L440.50,318.58 L439.00,317.83 L437.50,317.11 L436.00,316.41 L434.50,315.73 L433.00,315.08 L431.50,314.45 L430.00,313.83 L428.50,313.24 L427.00,312.67 L425.50,312.11 L424.00,311.57 L422.50,311.05 L421.00,310.54 L419.50,310.04 L418.00,309.56 L416.50,309.09 L415.00,308.63 L413.50,308.18 L412.00,307.75 L410.50,307.32 L409.00,306.89 L407.50,306.48 L406.00,306.07 L404.50,305.67 L403.00,305.27 L401.50,304.87 L400.00,304.47 L398.50,304.08 L397.00,303.69 L395.50,303.30 L394.00,302.90 L392.50,302.51 L391.00,302.12 L389.50,301.73 L388.00,301.34 L386.50,300.95 L385.00,300.57 L383.50,300.19 L382.00,299.81 L380.50,299.44 L379.00,299.07 L377.50,298.72 L376.00,298.36 L374.50,298.02 L373.00,297.69 L371.50,297.36 L370.00,297.04 L368.50,296.74 L367.00,296.44 L365.50,296.16 L364.00,295.88 L362.50,295.63 L361.00,295.38 L359.50,295.15 L358.00,294.93 L356.50,294.73 L355.00,294.55 L353.50,294.38 L352.00,294.23 L350.50,294.09 L349.00,293.98 L347.50,293.88 L346.00,293.80 L344.50,293.73 L343.00,293.69 L341.50,293.66 L340.00,293.66 L338.50,293.67 L337.00,293.69 L335.50,293.74 L334.00,293.81 L332.50,293.90 L331.00,294.00 L329.50,294.12 L328.00,294.27 L326.50,294.43 L325.00,294.61 L323.50,294.82 L322.00,295.04 L320.50,295.28 L319.00,295.54 L317.50,295.83 L316.00,296.13 L314.50,296.46 L313.00,296.80 L311.50,297.17 L310.00,297.55 L308.50,297.96 L307.00,298.39 L305.50,298.84 L304.00,299.31 L302.50,299.81 L301.00,300.32 Z" fill="#eec3cb"/>
<path d="M301.00,281.12 L302.50,281.10 L304.00,281.08 L305.50,281.07 L307.00,281.07 L308.50,281.07 L310.00,281.08 L311.50,281.10 L313.00,281.12 L314.50,281.15 L316.00,281.18 L317.50,281.22 L319.00,281.27 L320.50,281.32 L322.00,281.38 L323.50,281.44 L325.00,281.51 L326.50,281.59 L328.00,281.67 L329.50,281.76 L331.00,281.86 L332.50,281.96 L334.00,282.06 L335.50,282.18 L337.00,282.30 L338.50,282.42 L340.00,282.55 L341.50,282.69 L343.00,282.83 L344.50,282.98 L346.00,283.14 L347.50,283.30 L349.00,283.47 L350.50,283.64 L352.00,283.82 L353.50,284.00 L355.00,284.20 L356.50,284.39 L358.00,284.60 L359.50,284.81 L361.00,285.02 L362.50,285.24 L364.00,285.47 L365.50,285.70 L367.00,285.94 L368.50,286.19 L370.00,286.44 L371.50,286.70 L373.00,286.96 L374.50,287.23 L376.00,287.50 L377.50,287.78 L379.00,288.07 L380.50,288.36 L382.00,288.66 L383.50,288.96 L385.00,289.27 L386.50,289.59 L388.00,289.91 L389.50,290.24 L391.00,290.57 L392.50,290.91 L394.00,291.26 L395.50,291.61 L397.00,291.96 L398.50,292.33 L400.00,292.69 L401.50,293.07 L403.00,293.45 L404.50,293.83 L406.00,294.23 L407.50,294.62 L409.00,295.03 L410.50,295.43 L412.00,295.85 L413.50,296.27 L415.00,296.70 L416.50,297.13 L418.00,297.56 L419.50,298.01 L421.00,298.46 L422.50,298.91 L424.00,299.37 L425.50,299.84 L427.00,300.31 L428.50,300.79 L430.00,301.27 L431.50,301.76 L433.00,302.26 L434.50,302.76 L436.00,303.26 L437.50,303.77 L439.00,304.29 L440.50,304.81 L442.00,305.34 L443.50,305.88 L445.00,306.42 L446.50,306.96 L448.00,307.51 L449.50,308.07 L451.00,308.63 L452.50,309.20 L454.00,309.77 L455.50,310.35 L457.00,310.94 L458.50,311.53 L460.00,312.12 L461.50,312.73 L463.00,313.33 L464.50,313.94 L466.00,314.56 L467.50,315.19 L469.00,315.82 L470.50,316.45 L472.00,317.09 L473.50,317.74 L475.00,318.39 L476.50,319.04 L478.00,319.71 L479.50,320.37 L481.00,321.05 L482.50,321.73 L484.00,322.41 L485.50,323.10 L487.00,323.80 L488.50,324.50 L490.00,325.20 L491.00,325.68" fill="none" stroke="#c8102e" stroke-width="1.6"/>
<path d="M301.00,276.70 L491.00,313.30" fill="none" stroke="#e2708a" stroke-width="1.5" stroke-dasharray="3 2.2"/>
<line x1="296.40" y1="225.20" x2="296.40" y2="366.95" stroke="#222" stroke-width="1.5"/>
<line x1="295.65" y1="366.20" x2="509.10" y2="366.20" stroke="#222" stroke-width="1.5"/>
<line x1="293.20" y1="229.74" x2="296.40" y2="229.74" stroke="#222" stroke-width="1.2"/>
<text x="290.80" y="232.39" font-size="8.2" text-anchor="end" fill="#222">320</text>
<line x1="293.20" y1="240.31" x2="296.40" y2="240.31" stroke="#222" stroke-width="1.2"/>
<text x="290.80" y="242.96" font-size="8.2" text-anchor="end" fill="#222">160</text>
<line x1="293.20" y1="250.88" x2="296.40" y2="250.88" stroke="#222" stroke-width="1.2"/>
<text x="290.80" y="253.53" font-size="8.2" text-anchor="end" fill="#222">80</text>
<line x1="293.20" y1="261.45" x2="296.40" y2="261.45" stroke="#222" stroke-width="1.2"/>
<text x="290.80" y="264.10" font-size="8.2" text-anchor="end" fill="#222">40</text>
<line x1="293.20" y1="272.02" x2="296.40" y2="272.02" stroke="#222" stroke-width="1.2"/>
<text x="290.80" y="274.67" font-size="8.2" text-anchor="end" fill="#222">20</text>
<line x1="293.20" y1="282.59" x2="296.40" y2="282.59" stroke="#222" stroke-width="1.2"/>
<text x="290.80" y="285.24" font-size="8.2" text-anchor="end" fill="#222">10</text>
<line x1="293.20" y1="293.16" x2="296.40" y2="293.16" stroke="#222" stroke-width="1.2"/>
<text x="290.80" y="295.81" font-size="8.2" text-anchor="end" fill="#222">5</text>
<line x1="293.20" y1="303.73" x2="296.40" y2="303.73" stroke="#222" stroke-width="1.2"/>
<text x="290.80" y="306.38" font-size="8.2" text-anchor="end" fill="#222">2.5</text>
<line x1="293.20" y1="317.70" x2="296.40" y2="317.70" stroke="#222" stroke-width="1.2"/>
<text x="290.80" y="320.35" font-size="8.2" text-anchor="end" fill="#222">1</text>
<line x1="293.20" y1="328.27" x2="296.40" y2="328.27" stroke="#222" stroke-width="1.2"/>
<text x="290.80" y="330.92" font-size="8.2" text-anchor="end" fill="#222">.5</text>
<line x1="293.20" y1="338.84" x2="296.40" y2="338.84" stroke="#222" stroke-width="1.2"/>
<text x="290.80" y="341.49" font-size="8.2" text-anchor="end" fill="#222">.25</text>
<line x1="293.20" y1="352.81" x2="296.40" y2="352.81" stroke="#222" stroke-width="1.2"/>
<text x="290.80" y="355.46" font-size="8.2" text-anchor="end" fill="#222">.1</text>
<line x1="301.00" y1="366.20" x2="301.00" y2="369.40" stroke="#222" stroke-width="1.2"/>
<text x="301.00" y="377.50" font-size="8.2" text-anchor="middle" fill="#222">2000</text>
<line x1="341.80" y1="366.20" x2="341.80" y2="369.40" stroke="#222" stroke-width="1.2"/>
<text x="341.80" y="377.50" font-size="8.2" text-anchor="middle" fill="#222">2003</text>
<line x1="382.60" y1="366.20" x2="382.60" y2="369.40" stroke="#222" stroke-width="1.2"/>
<text x="382.60" y="377.50" font-size="8.2" text-anchor="middle" fill="#222">2006</text>
<line x1="423.40" y1="366.20" x2="423.40" y2="369.40" stroke="#222" stroke-width="1.2"/>
<text x="423.40" y="377.50" font-size="8.2" text-anchor="middle" fill="#222">2009</text>
<line x1="464.20" y1="366.20" x2="464.20" y2="369.40" stroke="#222" stroke-width="1.2"/>
<text x="464.20" y="377.50" font-size="8.2" text-anchor="middle" fill="#222">2012</text>
<line x1="505.00" y1="366.20" x2="505.00" y2="369.40" stroke="#222" stroke-width="1.2"/>
<text x="505.00" y="377.50" font-size="8.2" text-anchor="middle" fill="#222">2015</text>
<text x="402.60" y="224.00" font-size="9.3" text-anchor="middle" fill="#111">FL</text>
<text transform="translate(402.80,389.50) scale(0.59,1)" font-size="9.3" letter-spacing="0.35" font-weight="bold" stroke="none" text-anchor="middle" fill="#262626">Year of diagnosis</text>
<text transform="translate(272.20,327.20) rotate(-90) scale(0.645,1)" font-size="9.1" font-weight="bold" stroke="none" text-anchor="start" fill="#262626">Hazard ratio</text>
<text transform="translate(272.20,264.50) rotate(-90) scale(0.73,1)" font-size="9.1" font-weight="bold" stroke="none" text-anchor="end" fill="#262626">(95% CI)</text>
<line x1="302.10" y1="400.10" x2="314.20" y2="400.10" stroke="#cc2244" stroke-width="1.7"/>
<text x="317.10" y="402.60" font-size="6.85" fill="#222">Hazard ratio</text>
<rect x="372.10" y="396.20" width="7.2" height="7.3" fill="#eec3cb" stroke="#e9b3bf" stroke-width="0.6"/>
<text x="382.30" y="402.60" font-size="7.3" fill="#222">95% CI</text>
<line x1="302.10" y1="410.50" x2="314.70" y2="410.50" stroke="#e2708a" stroke-width="1.3" stroke-dasharray="3.1 1.9"/>
<text x="316.50" y="413.70" font-size="6.92" fill="#222"><tspan font-style="italic">P</tspan>-value for linear trend test = .012</text></g>
<g><line x1="37.20" y1="533.60" x2="249.90" y2="533.60" stroke="#5a5a5a" stroke-width="1.5"/>
<path d="M42.00,469.23 L43.50,469.57 L45.00,469.93 L46.50,470.33 L48.00,470.74 L49.50,471.18 L51.00,471.64 L52.50,472.11 L54.00,472.60 L55.50,473.10 L57.00,473.61 L58.50,474.12 L60.00,474.64 L61.50,475.16 L63.00,475.68 L64.50,476.19 L66.00,476.70 L67.50,477.20 L69.00,477.69 L70.50,478.17 L72.00,478.63 L73.50,479.07 L75.00,479.49 L76.50,479.89 L78.00,480.26 L79.50,480.61 L81.00,480.94 L82.50,481.24 L84.00,481.52 L85.50,481.78 L87.00,482.01 L88.50,482.22 L90.00,482.41 L91.50,482.57 L93.00,482.72 L94.50,482.84 L96.00,482.94 L97.50,483.02 L99.00,483.07 L100.50,483.11 L102.00,483.12 L103.50,483.12 L105.00,483.09 L106.50,483.04 L108.00,482.97 L109.50,482.88 L111.00,482.78 L112.50,482.65 L114.00,482.50 L115.50,482.34 L117.00,482.17 L118.50,481.98 L120.00,481.78 L121.50,481.58 L123.00,481.36 L124.50,481.14 L126.00,480.92 L127.50,480.70 L129.00,480.47 L130.50,480.25 L132.00,480.03 L133.50,479.82 L135.00,479.61 L136.50,479.41 L138.00,479.22 L139.50,479.04 L141.00,478.88 L142.50,478.73 L144.00,478.60 L145.50,478.49 L147.00,478.40 L148.50,478.33 L150.00,478.29 L151.50,478.27 L153.00,478.27 L154.50,478.31 L156.00,478.36 L157.50,478.43 L159.00,478.51 L160.50,478.61 L162.00,478.72 L163.50,478.84 L165.00,478.96 L166.50,479.09 L168.00,479.22 L169.50,479.34 L171.00,479.47 L172.50,479.58 L174.00,479.69 L175.50,479.78 L177.00,479.87 L178.50,479.93 L180.00,479.98 L181.50,480.01 L183.00,480.01 L184.50,479.98 L186.00,479.91 L187.50,479.81 L189.00,479.67 L190.50,479.47 L192.00,479.23 L193.50,478.93 L195.00,478.58 L196.50,478.18 L198.00,477.74 L199.50,477.26 L201.00,476.75 L202.50,476.19 L204.00,475.61 L205.50,475.00 L207.00,474.36 L208.50,473.70 L210.00,473.02 L211.50,472.32 L213.00,471.61 L214.50,470.90 L216.00,470.17 L217.50,469.44 L219.00,468.71 L220.50,467.98 L222.00,467.25 L223.50,466.54 L225.00,465.83 L226.50,465.14 L228.00,464.47 L229.50,463.82 L231.00,463.19 L232.00,462.78 L232.00,527.86 L231.00,527.26 L229.50,526.39 L228.00,525.53 L226.50,524.71 L225.00,523.90 L223.50,523.13 L222.00,522.37 L220.50,521.64 L219.00,520.94 L217.50,520.26 L216.00,519.60 L214.50,518.98 L213.00,518.37 L211.50,517.79 L210.00,517.24 L208.50,516.71 L207.00,516.21 L205.50,515.74 L204.00,515.29 L202.50,514.87 L201.00,514.47 L199.50,514.10 L198.00,513.76 L196.50,513.44 L195.00,513.15 L193.50,512.89 L192.00,512.65 L190.50,512.44 L189.00,512.26 L187.50,512.10 L186.00,511.97 L184.50,511.86 L183.00,511.78 L181.50,511.71 L180.00,511.67 L178.50,511.65 L177.00,511.65 L175.50,511.66 L174.00,511.69 L172.50,511.74 L171.00,511.80 L169.50,511.88 L168.00,511.97 L166.50,512.07 L165.00,512.18 L163.50,512.30 L162.00,512.43 L160.50,512.57 L159.00,512.72 L157.50,512.87 L156.00,513.03 L154.50,513.19 L153.00,513.36 L151.50,513.52 L150.00,513.69 L148.50,513.86 L147.00,514.03 L145.50,514.19 L144.00,514.35 L142.50,514.51 L141.00,514.67 L139.50,514.81 L138.00,514.96 L136.50,515.09 L135.00,515.22 L133.50,515.34 L132.00,515.45 L130.50,515.56 L129.00,515.67 L127.50,515.77 L126.00,515.88 L124.50,515.98 L123.00,516.09 L121.50,516.19 L120.00,516.30 L118.50,516.42 L117.00,516.54 L115.50,516.66 L114.00,516.80 L112.50,516.94 L111.00,517.09 L109.50,517.25 L108.00,517.43 L106.50,517.61 L105.00,517.82 L103.50,518.03 L102.00,518.26 L100.50,518.51 L99.00,518.78 L97.50,519.07 L96.00,519.37 L94.50,519.70 L93.00,520.05 L91.50,520.43 L90.00,520.83 L88.50,521.25 L87.00,521.70 L85.50,522.18 L84.00,522.69 L82.50,523.23 L81.00,523.79 L79.50,524.39 L78.00,525.02 L76.50,525.67 L75.00,526.35 L73.50,527.06 L72.00,527.80 L70.50,528.56 L69.00,529.34 L67.50,530.15 L66.00,530.99 L64.50,531.85 L63.00,532.73 L61.50,533.63 L60.00,534.55 L58.50,535.49 L57.00,536.45 L55.50,537.44 L54.00,538.44 L52.50,539.45 L51.00,540.49 L49.50,541.54 L48.00,542.61 L46.50,543.69 L45.00,544.79 L43.50,545.90 L42.00,547.02 Z" fill="#eec3cb"/>
<path d="M42.00,507.97 L43.50,507.75 L45.00,507.54 L46.50,507.32 L48.00,507.11 L49.50,506.89 L51.00,506.68 L52.50,506.47 L54.00,506.26 L55.50,506.06 L57.00,505.85 L58.50,505.65 L60.00,505.45 L61.50,505.25 L63.00,505.05 L64.50,504.85 L66.00,504.66 L67.50,504.46 L69.00,504.27 L70.50,504.08 L72.00,503.89 L73.50,503.71 L75.00,503.52 L76.50,503.34 L78.00,503.16 L79.50,502.98 L81.00,502.80 L82.50,502.62 L84.00,502.45 L85.50,502.27 L87.00,502.10 L88.50,501.93 L90.00,501.77 L91.50,501.60 L93.00,501.44 L94.50,501.28 L96.00,501.12 L97.50,500.96 L99.00,500.80 L100.50,500.65 L102.00,500.49 L103.50,500.34 L105.00,500.19 L106.50,500.05 L108.00,499.90 L109.50,499.76 L111.00,499.62 L112.50,499.48 L114.00,499.34 L115.50,499.20 L117.00,499.07 L118.50,498.94 L120.00,498.81 L121.50,498.68 L123.00,498.56 L124.50,498.43 L126.00,498.31 L127.50,498.19 L129.00,498.07 L130.50,497.96 L132.00,497.84 L133.50,497.73 L135.00,497.62 L136.50,497.51 L138.00,497.41 L139.50,497.30 L141.00,497.20 L142.50,497.10 L144.00,497.01 L145.50,496.91 L147.00,496.82 L148.50,496.73 L150.00,496.64 L151.50,496.55 L153.00,496.47 L154.50,496.39 L156.00,496.31 L157.50,496.23 L159.00,496.15 L160.50,496.08 L162.00,496.01 L163.50,495.94 L165.00,495.87 L166.50,495.81 L168.00,495.74 L169.50,495.68 L171.00,495.62 L172.50,495.57 L174.00,495.51 L175.50,495.46 L177.00,495.41 L178.50,495.37 L180.00,495.32 L181.50,495.28 L183.00,495.24 L184.50,495.20 L186.00,495.17 L187.50,495.13 L189.00,495.10 L190.50,495.08 L192.00,495.05 L193.50,495.03 L195.00,495.00 L196.50,494.99 L198.00,494.97 L199.50,494.95 L201.00,494.94 L202.50,494.93 L204.00,494.93 L205.50,494.92 L207.00,494.92 L208.50,494.92 L210.00,494.92 L211.50,494.93 L213.00,494.94 L214.50,494.95 L216.00,494.96 L217.50,494.98 L219.00,494.99 L220.50,495.01 L222.00,495.04 L223.50,495.06 L225.00,495.09 L226.50,495.12 L228.00,495.15 L229.50,495.19 L231.00,495.23 L232.00,495.25" fill="none" stroke="#c8102e" stroke-width="1.6"/>
<path d="M42.00,504.60 L232.00,493.70" fill="none" stroke="#e2708a" stroke-width="1.5" stroke-dasharray="3 2.2"/>
<line x1="37.20" y1="434.80" x2="37.20" y2="576.55" stroke="#222" stroke-width="1.5"/>
<line x1="36.45" y1="575.80" x2="249.90" y2="575.80" stroke="#222" stroke-width="1.5"/>
<line x1="34.00" y1="439.81" x2="37.20" y2="439.81" stroke="#222" stroke-width="1.2"/>
<text x="31.60" y="442.46" font-size="8.2" text-anchor="end" fill="#222">320</text>
<line x1="34.00" y1="451.08" x2="37.20" y2="451.08" stroke="#222" stroke-width="1.2"/>
<text x="31.60" y="453.73" font-size="8.2" text-anchor="end" fill="#222">160</text>
<line x1="34.00" y1="462.35" x2="37.20" y2="462.35" stroke="#222" stroke-width="1.2"/>
<text x="31.60" y="465.00" font-size="8.2" text-anchor="end" fill="#222">80</text>
<line x1="34.00" y1="473.62" x2="37.20" y2="473.62" stroke="#222" stroke-width="1.2"/>
<text x="31.60" y="476.27" font-size="8.2" text-anchor="end" fill="#222">40</text>
<line x1="34.00" y1="484.89" x2="37.20" y2="484.89" stroke="#222" stroke-width="1.2"/>
<text x="31.60" y="487.54" font-size="8.2" text-anchor="end" fill="#222">20</text>
<line x1="34.00" y1="496.16" x2="37.20" y2="496.16" stroke="#222" stroke-width="1.2"/>
<text x="31.60" y="498.81" font-size="8.2" text-anchor="end" fill="#222">10</text>
<line x1="34.00" y1="507.43" x2="37.20" y2="507.43" stroke="#222" stroke-width="1.2"/>
<text x="31.60" y="510.08" font-size="8.2" text-anchor="end" fill="#222">5</text>
<line x1="34.00" y1="518.70" x2="37.20" y2="518.70" stroke="#222" stroke-width="1.2"/>
<text x="31.60" y="521.35" font-size="8.2" text-anchor="end" fill="#222">2.5</text>
<line x1="34.00" y1="533.60" x2="37.20" y2="533.60" stroke="#222" stroke-width="1.2"/>
<text x="31.60" y="536.25" font-size="8.2" text-anchor="end" fill="#222">1</text>
<line x1="34.00" y1="544.87" x2="37.20" y2="544.87" stroke="#222" stroke-width="1.2"/>
<text x="31.60" y="547.52" font-size="8.2" text-anchor="end" fill="#222">.5</text>
<line x1="34.00" y1="556.14" x2="37.20" y2="556.14" stroke="#222" stroke-width="1.2"/>
<text x="31.60" y="558.79" font-size="8.2" text-anchor="end" fill="#222">.25</text>
<line x1="34.00" y1="571.04" x2="37.20" y2="571.04" stroke="#222" stroke-width="1.2"/>
<text x="31.60" y="573.69" font-size="8.2" text-anchor="end" fill="#222">.1</text>
<line x1="41.80" y1="575.80" x2="41.80" y2="579.00" stroke="#222" stroke-width="1.2"/>
<text x="41.80" y="587.10" font-size="8.2" text-anchor="middle" fill="#222">2000</text>
<line x1="82.60" y1="575.80" x2="82.60" y2="579.00" stroke="#222" stroke-width="1.2"/>
<text x="82.60" y="587.10" font-size="8.2" text-anchor="middle" fill="#222">2003</text>
<line x1="123.40" y1="575.80" x2="123.40" y2="579.00" stroke="#222" stroke-width="1.2"/>
<text x="123.40" y="587.10" font-size="8.2" text-anchor="middle" fill="#222">2006</text>
<line x1="164.20" y1="575.80" x2="164.20" y2="579.00" stroke="#222" stroke-width="1.2"/>
<text x="164.20" y="587.10" font-size="8.2" text-anchor="middle" fill="#222">2009</text>
<line x1="205.00" y1="575.80" x2="205.00" y2="579.00" stroke="#222" stroke-width="1.2"/>
<text x="205.00" y="587.10" font-size="8.2" text-anchor="middle" fill="#222">2012</text>
<line x1="245.80" y1="575.80" x2="245.80" y2="579.00" stroke="#222" stroke-width="1.2"/>
<text x="245.80" y="587.10" font-size="8.2" text-anchor="middle" fill="#222">2015</text>
<text x="143.40" y="431.50" font-size="9.3" text-anchor="middle" fill="#111">T-NHL</text>
<text transform="translate(143.60,599.10) scale(0.59,1)" font-size="9.3" letter-spacing="0.35" font-weight="bold" stroke="none" text-anchor="middle" fill="#262626">Year of diagnosis</text>
<text transform="translate(13.00,536.80) rotate(-90) scale(0.645,1)" font-size="9.1" font-weight="bold" stroke="none" text-anchor="start" fill="#262626">Hazard ratio</text>
<text transform="translate(13.00,474.10) rotate(-90) scale(0.73,1)" font-size="9.1" font-weight="bold" stroke="none" text-anchor="end" fill="#262626">(95% CI)</text>
<line x1="42.90" y1="609.70" x2="55.00" y2="609.70" stroke="#cc2244" stroke-width="1.7"/>
<text x="57.90" y="612.20" font-size="6.85" fill="#222">Hazard ratio</text>
<rect x="112.90" y="605.80" width="7.2" height="7.3" fill="#eec3cb" stroke="#e9b3bf" stroke-width="0.6"/>
<text x="123.10" y="612.20" font-size="7.3" fill="#222">95% CI</text>
<line x1="42.90" y1="620.10" x2="55.50" y2="620.10" stroke="#e2708a" stroke-width="1.3" stroke-dasharray="3.1 1.9"/>
<text x="57.30" y="623.30" font-size="6.92" fill="#222"><tspan font-style="italic">P</tspan>-value for linear trend test = .583</text></g>
<g><line x1="296.40" y1="534.00" x2="509.10" y2="534.00" stroke="#5a5a5a" stroke-width="1.5"/>
<path d="M301.00,496.14 L302.50,496.51 L304.00,496.86 L305.50,497.21 L307.00,497.55 L308.50,497.87 L310.00,498.19 L311.50,498.49 L313.00,498.78 L314.50,499.06 L316.00,499.34 L317.50,499.60 L319.00,499.85 L320.50,500.10 L322.00,500.33 L323.50,500.55 L325.00,500.77 L326.50,500.97 L328.00,501.17 L329.50,501.36 L331.00,501.54 L332.50,501.71 L334.00,501.87 L335.50,502.02 L337.00,502.16 L338.50,502.30 L340.00,502.43 L341.50,502.55 L343.00,502.66 L344.50,502.77 L346.00,502.86 L347.50,502.95 L349.00,503.04 L350.50,503.11 L352.00,503.18 L353.50,503.24 L355.00,503.30 L356.50,503.34 L358.00,503.39 L359.50,503.42 L361.00,503.45 L362.50,503.48 L364.00,503.50 L365.50,503.52 L367.00,503.53 L368.50,503.55 L370.00,503.55 L371.50,503.56 L373.00,503.56 L374.50,503.56 L376.00,503.56 L377.50,503.56 L379.00,503.56 L380.50,503.55 L382.00,503.55 L383.50,503.55 L385.00,503.55 L386.50,503.55 L388.00,503.55 L389.50,503.55 L391.00,503.55 L392.50,503.56 L394.00,503.57 L395.50,503.59 L397.00,503.60 L398.50,503.63 L400.00,503.65 L401.50,503.68 L403.00,503.71 L404.50,503.74 L406.00,503.77 L407.50,503.80 L409.00,503.84 L410.50,503.87 L412.00,503.90 L413.50,503.93 L415.00,503.96 L416.50,503.99 L418.00,504.02 L419.50,504.04 L421.00,504.06 L422.50,504.07 L424.00,504.08 L425.50,504.09 L427.00,504.09 L428.50,504.09 L430.00,504.08 L431.50,504.06 L433.00,504.03 L434.50,504.00 L436.00,503.96 L437.50,503.91 L439.00,503.85 L440.50,503.78 L442.00,503.70 L443.50,503.62 L445.00,503.52 L446.50,503.41 L448.00,503.28 L449.50,503.15 L451.00,503.00 L452.50,502.84 L454.00,502.66 L455.50,502.48 L457.00,502.27 L458.50,502.05 L460.00,501.82 L461.50,501.58 L463.00,501.31 L464.50,501.03 L466.00,500.74 L467.50,500.43 L469.00,500.11 L470.50,499.77 L472.00,499.41 L473.50,499.04 L475.00,498.65 L476.50,498.24 L478.00,497.81 L479.50,497.37 L481.00,496.91 L482.50,496.44 L484.00,495.94 L485.50,495.43 L487.00,494.90 L488.50,494.35 L490.00,493.78 L491.00,493.39 L491.00,527.06 L490.00,526.78 L488.50,526.39 L487.00,526.01 L485.50,525.65 L484.00,525.30 L482.50,524.97 L481.00,524.65 L479.50,524.35 L478.00,524.07 L476.50,523.80 L475.00,523.54 L473.50,523.29 L472.00,523.06 L470.50,522.84 L469.00,522.64 L467.50,522.44 L466.00,522.26 L464.50,522.09 L463.00,521.93 L461.50,521.78 L460.00,521.64 L458.50,521.51 L457.00,521.39 L455.50,521.28 L454.00,521.18 L452.50,521.09 L451.00,521.00 L449.50,520.92 L448.00,520.86 L446.50,520.79 L445.00,520.74 L443.50,520.69 L442.00,520.65 L440.50,520.61 L439.00,520.58 L437.50,520.55 L436.00,520.53 L434.50,520.51 L433.00,520.50 L431.50,520.49 L430.00,520.48 L428.50,520.48 L427.00,520.48 L425.50,520.48 L424.00,520.48 L422.50,520.48 L421.00,520.49 L419.50,520.50 L418.00,520.50 L416.50,520.51 L415.00,520.52 L413.50,520.52 L412.00,520.53 L410.50,520.53 L409.00,520.53 L407.50,520.53 L406.00,520.53 L404.50,520.53 L403.00,520.52 L401.50,520.51 L400.00,520.49 L398.50,520.47 L397.00,520.45 L395.50,520.42 L394.00,520.39 L392.50,520.35 L391.00,520.31 L389.50,520.26 L388.00,520.21 L386.50,520.16 L385.00,520.10 L383.50,520.05 L382.00,519.99 L380.50,519.93 L379.00,519.87 L377.50,519.80 L376.00,519.74 L374.50,519.68 L373.00,519.62 L371.50,519.56 L370.00,519.50 L368.50,519.44 L367.00,519.38 L365.50,519.33 L364.00,519.28 L362.50,519.23 L361.00,519.19 L359.50,519.15 L358.00,519.11 L356.50,519.08 L355.00,519.06 L353.50,519.04 L352.00,519.02 L350.50,519.02 L349.00,519.01 L347.50,519.02 L346.00,519.03 L344.50,519.04 L343.00,519.06 L341.50,519.09 L340.00,519.12 L338.50,519.16 L337.00,519.21 L335.50,519.26 L334.00,519.31 L332.50,519.38 L331.00,519.44 L329.50,519.52 L328.00,519.60 L326.50,519.69 L325.00,519.78 L323.50,519.88 L322.00,519.98 L320.50,520.09 L319.00,520.20 L317.50,520.33 L316.00,520.45 L314.50,520.59 L313.00,520.73 L311.50,520.87 L310.00,521.02 L308.50,521.18 L307.00,521.34 L305.50,521.51 L304.00,521.69 L302.50,521.87 L301.00,522.06 Z" fill="#eec3cb"/>
<path d="M301.00,509.03 L302.50,509.12 L304.00,509.20 L305.50,509.27 L307.00,509.35 L308.50,509.43 L310.00,509.50 L311.50,509.58 L313.00,509.65 L314.50,509.73 L316.00,509.80 L317.50,509.87 L319.00,509.94 L320.50,510.00 L322.00,510.07 L323.50,510.14 L325.00,510.20 L326.50,510.27 L328.00,510.33 L329.50,510.39 L331.00,510.45 L332.50,510.51 L334.00,510.57 L335.50,510.63 L337.00,510.68 L338.50,510.74 L340.00,510.79 L341.50,510.84 L343.00,510.89 L344.50,510.95 L346.00,510.99 L347.50,511.04 L349.00,511.09 L350.50,511.14 L352.00,511.18 L353.50,511.22 L355.00,511.27 L356.50,511.31 L358.00,511.35 L359.50,511.39 L361.00,511.43 L362.50,511.46 L364.00,511.50 L365.50,511.53 L367.00,511.57 L368.50,511.60 L370.00,511.63 L371.50,511.66 L373.00,511.69 L374.50,511.72 L376.00,511.74 L377.50,511.77 L379.00,511.79 L380.50,511.81 L382.00,511.84 L383.50,511.86 L385.00,511.88 L386.50,511.89 L388.00,511.91 L389.50,511.93 L391.00,511.94 L392.50,511.95 L394.00,511.97 L395.50,511.98 L397.00,511.99 L398.50,512.00 L400.00,512.00 L401.50,512.01 L403.00,512.01 L404.50,512.02 L406.00,512.02 L407.50,512.02 L409.00,512.02 L410.50,512.02 L412.00,512.02 L413.50,512.02 L415.00,512.01 L416.50,512.01 L418.00,512.00 L419.50,511.99 L421.00,511.98 L422.50,511.97 L424.00,511.96 L425.50,511.94 L427.00,511.93 L428.50,511.91 L430.00,511.90 L431.50,511.88 L433.00,511.86 L434.50,511.84 L436.00,511.82 L437.50,511.79 L439.00,511.77 L440.50,511.74 L442.00,511.72 L443.50,511.69 L445.00,511.66 L446.50,511.63 L448.00,511.60 L449.50,511.56 L451.00,511.53 L452.50,511.49 L454.00,511.46 L455.50,511.42 L457.00,511.38 L458.50,511.34 L460.00,511.29 L461.50,511.25 L463.00,511.21 L464.50,511.16 L466.00,511.11 L467.50,511.06 L469.00,511.01 L470.50,510.96 L472.00,510.91 L473.50,510.86 L475.00,510.80 L476.50,510.75 L478.00,510.69 L479.50,510.63 L481.00,510.57 L482.50,510.51 L484.00,510.44 L485.50,510.38 L487.00,510.31 L488.50,510.25 L490.00,510.18 L491.00,510.13" fill="none" stroke="#c8102e" stroke-width="1.6"/>
<path d="M301.00,510.40 L491.00,510.80" fill="none" stroke="#e2708a" stroke-width="1.5" stroke-dasharray="3 2.2"/>
<line x1="296.40" y1="435.20" x2="296.40" y2="576.95" stroke="#222" stroke-width="1.5"/>
<line x1="295.65" y1="576.20" x2="509.10" y2="576.20" stroke="#222" stroke-width="1.5"/>
<line x1="293.20" y1="440.21" x2="296.40" y2="440.21" stroke="#222" stroke-width="1.2"/>
<text x="290.80" y="442.86" font-size="8.2" text-anchor="end" fill="#222">320</text>
<line x1="293.20" y1="451.48" x2="296.40" y2="451.48" stroke="#222" stroke-width="1.2"/>
<text x="290.80" y="454.13" font-size="8.2" text-anchor="end" fill="#222">160</text>
<line x1="293.20" y1="462.75" x2="296.40" y2="462.75" stroke="#222" stroke-width="1.2"/>
<text x="290.80" y="465.40" font-size="8.2" text-anchor="end" fill="#222">80</text>
<line x1="293.20" y1="474.02" x2="296.40" y2="474.02" stroke="#222" stroke-width="1.2"/>
<text x="290.80" y="476.67" font-size="8.2" text-anchor="end" fill="#222">40</text>
<line x1="293.20" y1="485.29" x2="296.40" y2="485.29" stroke="#222" stroke-width="1.2"/>
<text x="290.80" y="487.94" font-size="8.2" text-anchor="end" fill="#222">20</text>
<line x1="293.20" y1="496.56" x2="296.40" y2="496.56" stroke="#222" stroke-width="1.2"/>
<text x="290.80" y="499.21" font-size="8.2" text-anchor="end" fill="#222">10</text>
<line x1="293.20" y1="507.83" x2="296.40" y2="507.83" stroke="#222" stroke-width="1.2"/>
<text x="290.80" y="510.48" font-size="8.2" text-anchor="end" fill="#222">5</text>
<line x1="293.20" y1="519.10" x2="296.40" y2="519.10" stroke="#222" stroke-width="1.2"/>
<text x="290.80" y="521.75" font-size="8.2" text-anchor="end" fill="#222">2.5</text>
<line x1="293.20" y1="534.00" x2="296.40" y2="534.00" stroke="#222" stroke-width="1.2"/>
<text x="290.80" y="536.65" font-size="8.2" text-anchor="end" fill="#222">1</text>
<line x1="293.20" y1="545.27" x2="296.40" y2="545.27" stroke="#222" stroke-width="1.2"/>
<text x="290.80" y="547.92" font-size="8.2" text-anchor="end" fill="#222">.5</text>
<line x1="293.20" y1="556.54" x2="296.40" y2="556.54" stroke="#222" stroke-width="1.2"/>
<text x="290.80" y="559.19" font-size="8.2" text-anchor="end" fill="#222">.25</text>
<line x1="293.20" y1="571.44" x2="296.40" y2="571.44" stroke="#222" stroke-width="1.2"/>
<text x="290.80" y="574.09" font-size="8.2" text-anchor="end" fill="#222">.1</text>
<line x1="301.00" y1="576.20" x2="301.00" y2="579.40" stroke="#222" stroke-width="1.2"/>
<text x="301.00" y="587.50" font-size="8.2" text-anchor="middle" fill="#222">2000</text>
<line x1="341.80" y1="576.20" x2="341.80" y2="579.40" stroke="#222" stroke-width="1.2"/>
<text x="341.80" y="587.50" font-size="8.2" text-anchor="middle" fill="#222">2003</text>
<line x1="382.60" y1="576.20" x2="382.60" y2="579.40" stroke="#222" stroke-width="1.2"/>
<text x="382.60" y="587.50" font-size="8.2" text-anchor="middle" fill="#222">2006</text>
<line x1="423.40" y1="576.20" x2="423.40" y2="579.40" stroke="#222" stroke-width="1.2"/>
<text x="423.40" y="587.50" font-size="8.2" text-anchor="middle" fill="#222">2009</text>
<line x1="464.20" y1="576.20" x2="464.20" y2="579.40" stroke="#222" stroke-width="1.2"/>
<text x="464.20" y="587.50" font-size="8.2" text-anchor="middle" fill="#222">2012</text>
<line x1="505.00" y1="576.20" x2="505.00" y2="579.40" stroke="#222" stroke-width="1.2"/>
<text x="505.00" y="587.50" font-size="8.2" text-anchor="middle" fill="#222">2015</text>
<text x="402.60" y="431.90" font-size="9.3" text-anchor="middle" fill="#111">Other B-cell</text>
<text transform="translate(402.80,599.50) scale(0.59,1)" font-size="9.3" letter-spacing="0.35" font-weight="bold" stroke="none" text-anchor="middle" fill="#262626">Year of diagnosis</text>
<text transform="translate(272.20,537.20) rotate(-90) scale(0.645,1)" font-size="9.1" font-weight="bold" stroke="none" text-anchor="start" fill="#262626">Hazard ratio</text>
<text transform="translate(272.20,474.50) rotate(-90) scale(0.73,1)" font-size="9.1" font-weight="bold" stroke="none" text-anchor="end" fill="#262626">(95% CI)</text>
<line x1="302.10" y1="610.10" x2="314.20" y2="610.10" stroke="#cc2244" stroke-width="1.7"/>
<text x="317.10" y="612.60" font-size="6.85" fill="#222">Hazard ratio</text>
<rect x="372.10" y="606.20" width="7.2" height="7.3" fill="#eec3cb" stroke="#e9b3bf" stroke-width="0.6"/>
<text x="382.30" y="612.60" font-size="7.3" fill="#222">95% CI</text>
<line x1="302.10" y1="620.50" x2="314.70" y2="620.50" stroke="#e2708a" stroke-width="1.3" stroke-dasharray="3.1 1.9"/>
<text x="316.50" y="623.70" font-size="6.92" fill="#222"><tspan font-style="italic">P</tspan>-value for linear trend test = .902</text></g>
<rect x="0.6" y="0.6" width="518.8" height="628.8" fill="none" stroke="#111" stroke-width="1.2"/>
</svg></body></html>
